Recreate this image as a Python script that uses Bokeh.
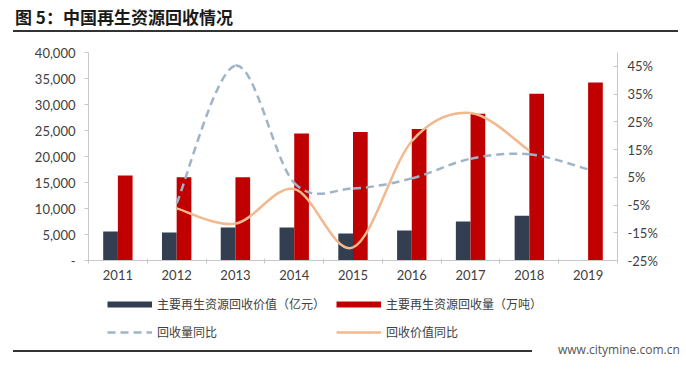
from bokeh.plotting import figure
from bokeh.layouts import column
from bokeh.models import (Range1d, LinearAxis, FixedTicker, NumeralTickFormatter,
                          Legend, LegendItem, Div)
from bokeh.embed import file_html
from bokeh.resources import INLINE

# ---- data ----
years = ["2011", "2012", "2013", "2014", "2015", "2016", "2017", "2018", "2019"]
value_100m_yuan = [5580, 5380, 6350, 6350, 5190, 5770, 7500, 8590, None]
volume_10k_t = [16350, 16000, 16000, 24400, 24700, 25300, 28200, 32050, 34230]
volume_yoy_pct = [None, -4.4, 45.3, 3.0, 1.0, 4.6, 11.7, 13.3, 7.9]
value_yoy_pct = [None, -6.2, -11.7, 0.8, -20.3, 18.0, 28.2, 14.6, None]
left_ticks = [0, 5000, 10000, 15000, 20000, 25000, 30000, 35000, 40000]
right_ticks = [-25, -15, -5, 5, 15, 25, 35, 45]

title_text = "图 5：中国再生资源回收情况"
lbl_value = "主要再生资源回收价值（亿元）"
lbl_volume = "主要再生资源回收量（万吨）"
lbl_vol_yoy = "回收量同比"
lbl_val_yoy = "回收价值同比"
watermark = "www.citymine.com.cn"

DARK = "#333f50"
RED = "#c00000"
BLUE = "#9fb4c6"
TAN = "#f2b88e"
TXT = "#404040"
AX = "#c8c8c8"
NUMFONT = "Lato"
CJK = "Noto Sans CJK SC"

W = 686
p = figure(width=W, height=252, x_range=Range1d(-0.5, len(years) - 0.5),
           y_range=Range1d(0, 40000), output_backend="svg", toolbar_location=None,
           min_border_left=88, min_border_right=69, min_border_top=19,
           min_border_bottom=25, margin=0)
p.extra_y_ranges = {"pct": Range1d(-25, 50)}
p.outline_line_color = None
p.grid.visible = False

# ---- bars ----
bw = 0.25
xi = [i for i, v in enumerate(value_100m_yuan) if v is not None]
p.vbar(x=[i - bw / 2 for i in xi], top=[value_100m_yuan[i] for i in xi], bottom=0,
       width=bw, fill_color=DARK, line_color=None)
p.vbar(x=[i + bw / 2 for i in range(len(years))], top=volume_10k_t, bottom=0,
       width=bw, fill_color=RED, line_color=None)


# ---- smoothed lines (Catmull-Rom -> cubic Bezier through the data points) ----
def smooth(vals):
    pts = [(i, v) for i, v in enumerate(vals) if v is not None]
    seg = dict(x0=[], y0=[], x1=[], y1=[], cx0=[], cy0=[], cx1=[], cy1=[])
    n = len(pts)
    for k in range(n - 1):
        p0 = pts[k - 1] if k > 0 else pts[k]
        p1 = pts[k]
        p2 = pts[k + 1]
        p3 = pts[k + 2] if k + 2 < n else pts[k + 1]
        seg["x0"].append(p1[0]); seg["y0"].append(p1[1])
        seg["x1"].append(p2[0]); seg["y1"].append(p2[1])
        seg["cx0"].append(p1[0] + (p2[0] - p0[0]) / 6)
        seg["cy0"].append(p1[1] + (p2[1] - p0[1]) / 6)
        seg["cx1"].append(p2[0] - (p3[0] - p1[0]) / 6)
        seg["cy1"].append(p2[1] - (p3[1] - p1[1]) / 6)
    return seg


p.bezier(**smooth(value_yoy_pct), y_range_name="pct", line_color=TAN, line_width=2.5)
p.bezier(**smooth(volume_yoy_pct), y_range_name="pct", line_color=BLUE, line_width=2.5,
         line_dash="8 5")

# ---- axes ----
xa = p.xaxis[0]
xa.ticker = FixedTicker(ticks=list(range(len(years))),
                        minor_ticks=[i - 0.5 for i in range(len(years) + 1)])
xa.major_label_overrides = {i: y for i, y in enumerate(years)}
xa.major_tick_line_color = None
xa.major_tick_in = 0
xa.major_tick_out = 0
xa.minor_tick_in = 2
xa.minor_tick_out = 3
xa.minor_tick_line_color = AX
xa.axis_line_color = AX
xa.major_label_text_font = NUMFONT
xa.major_label_text_font_size = "13px"
xa.major_label_text_color = TXT
xa.major_label_standoff = 6

ya = p.yaxis[0]
ya.ticker = FixedTicker(ticks=left_ticks)
ya.formatter = NumeralTickFormatter(format="0,0")
ya.major_label_overrides = {0: "-"}
ya.minor_tick_line_color = None
ya.major_tick_in = 0
ya.major_tick_out = 4
ya.major_tick_line_color = AX
ya.axis_line_color = AX
ya.major_label_text_font = NUMFONT
ya.major_label_text_font_size = "13px"
ya.major_label_text_color = TXT
ya.major_label_standoff = 9

ra = LinearAxis(y_range_name="pct", ticker=FixedTicker(ticks=right_ticks))
ra.major_label_overrides = {v: f"{v}%" for v in right_ticks}
ra.minor_tick_line_color = None
ra.major_tick_in = 4
ra.major_tick_out = 0
ra.major_tick_line_color = AX
ra.axis_line_color = AX
ra.major_label_text_font = NUMFONT
ra.major_label_text_font_size = "13px"
ra.major_label_text_color = TXT
ra.major_label_standoff = 10
p.add_layout(ra, "right")

# ---- legend strip (separate small figure, swatch proxies) ----
lg = figure(width=W, height=58, x_range=Range1d(0, 1), y_range=Range1d(0, 1),
            output_backend="svg", toolbar_location=None, x_axis_location=None,
            y_axis_location=None, min_border=0, margin=0)
lg.outline_line_color = None
lg.grid.visible = False
r1 = lg.line(x=[0], y=[0], line_color=DARK, line_width=6)
r2 = lg.line(x=[0], y=[0], line_color=RED, line_width=6)
r3 = lg.line(x=[0], y=[0], line_color=BLUE, line_width=2.5, line_dash="8 5")
r4 = lg.line(x=[0], y=[0], line_color=TAN, line_width=2.5)
legend = Legend(items=[LegendItem(label=lbl_value, renderers=[r1]),
                       LegendItem(label=lbl_volume, renderers=[r2]),
                       LegendItem(label=lbl_vol_yoy, renderers=[r3]),
                       LegendItem(label=lbl_val_yoy, renderers=[r4])],
                ncols=2, orientation="horizontal", location=(19, 3),
                glyph_width=45, glyph_height=16, label_height=16, label_standoff=5,
                spacing=11, padding=0, margin=0, label_text_font=CJK,
                label_text_font_size="12px", label_text_color=TXT,
                border_line_color=None, background_fill_alpha=0)
lg.add_layout(legend, "center")

# ---- title, rules, watermark ----
title_div = Div(width=W, height=33, margin=0, text=(
    '<div style="position:relative;width:686px;height:33px;">'
    '<div style="position:absolute;left:15px;top:6px;font-family:\'Noto Sans CJK SC\';'
    'font-size:17px;font-weight:bold;color:#1a1a1a;line-height:22px;white-space:nowrap;">'
    f'{title_text}</div>'
    '<div style="position:absolute;left:13px;top:30px;width:665px;height:2px;'
    'background:#333333;"></div></div>'))
foot_div = Div(width=W, height=26, margin=0, text=(
    '<div style="position:relative;width:686px;height:26px;">'
    '<div style="position:absolute;left:13px;top:6.5px;width:519px;height:2px;'
    'background:#333333;"></div>'
    '<div style="position:absolute;left:558px;top:0px;font-family:\'Open Sans\';'
    'font-size:12px;color:#555555;line-height:14px;white-space:nowrap;">'
    f'{watermark}</div></div>'))

layout = column(title_div, p, lg, foot_div, spacing=0, margin=0)
open("out.html", "w").write(file_html(layout, INLINE))
